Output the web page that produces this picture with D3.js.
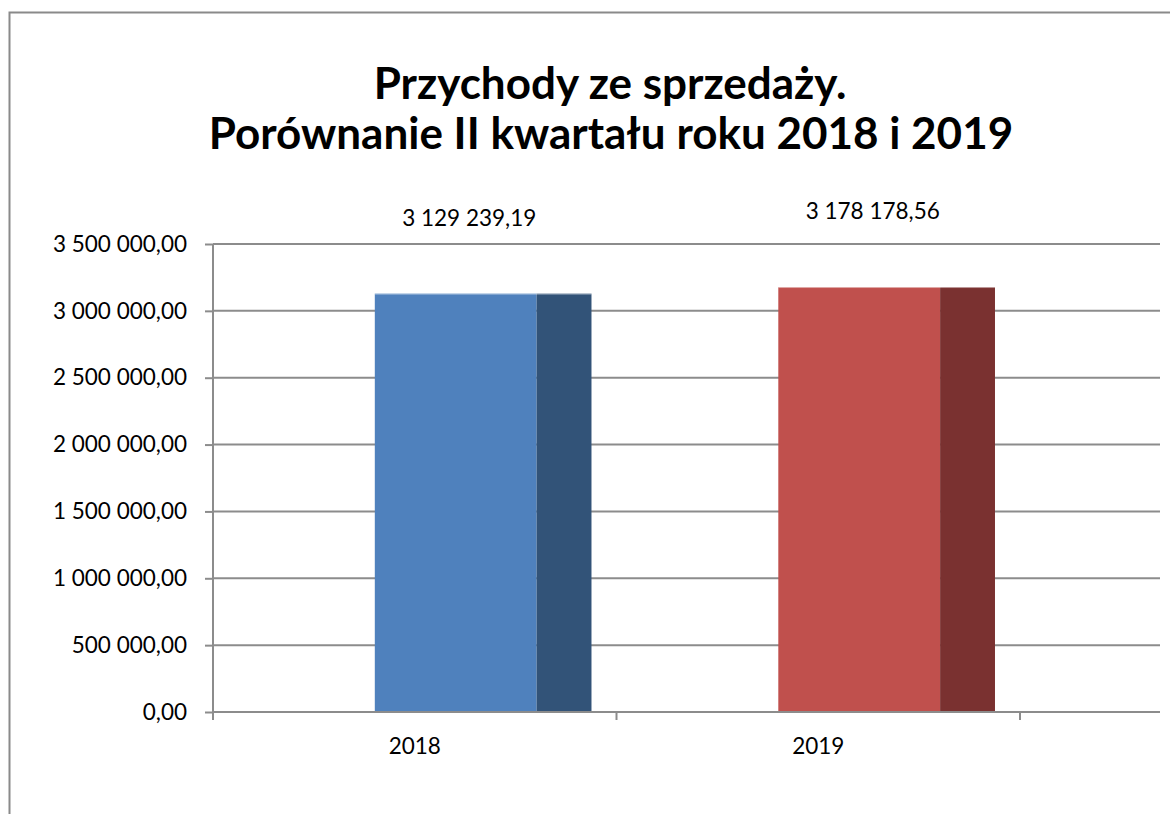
<!DOCTYPE html>
<html>
<head>
<meta charset="utf-8">
<script src="https://cdn.jsdelivr.net/npm/d3@7"></script>
<style>
  html, body { margin: 0; background: #fff; overflow: hidden; }
  svg { display: block; font-family: Lato, "Open Sans", sans-serif; }
</style>
</head>
<body>
<div id="chart"></div>
<script>
var years = ["2018", "2019"];
var values = [3129239.19, 3178178.56];
var labels = ["3 129 239,19", "3 178 178,56"];
var frontColors = ["#4f81bd", "#c0504d"];
var sideColors = ["#325378", "#7a3130"];
var yTicks = [0, 500000, 1000000, 1500000, 2000000, 2500000, 3000000, 3500000];
var yTickLabels = ["0,00", "500 000,00", "1 000 000,00", "1 500 000,00", "2 000 000,00",
	"2 500 000,00", "3 000 000,00", "3 500 000,00"];

var W = 1170, H = 814;
var margin = {left: 213, right: 10, top: 244, bottom: 102};
var width = 1160 - margin.left;   // gridlines end at 1160
var height = 712 - margin.top;
var fs = 22.5;

var svg = d3.select("#chart")
	.append("svg")
	.attr("width", W)
	.attr("height", H);

// chart frame
svg.append("rect")
	.attr("x", 9.5).attr("y", 12.5)
	.attr("width", 1300).attr("height", 900)
	.attr("fill", "none")
	.attr("stroke", "#8a8a8a")
	.attr("stroke-width", 2);

// title
var title = svg.append("text")
	.attr("text-anchor", "middle")
	.attr("font-weight", "bold")
	.attr("font-size", 44)
	.attr("fill", "#000");
title.append("tspan").attr("x", 610).attr("y", 99).text("Przychody ze sprzedaży.");
title.append("tspan").attr("x", 611).attr("y", 149).text("Porównanie II kwartału roku 2018 i 2019");

var g = svg.append("g")
	.attr("transform", "translate(" + margin.left + "," + margin.top + ")");

var x = d3.scaleBand().domain(years).range([0, 807]);
var y = d3.scaleLinear().domain([0, 3500000]).range([height, 0]);
var bw = x.bandwidth();

// gridlines
g.selectAll(".grid")
	.data(yTicks.slice(1))
	.enter().append("line")
	.attr("class", "grid")
	.attr("x1", 0).attr("x2", width)
	.attr("y1", function (d) { return y(d); })
	.attr("y2", function (d) { return y(d); })
	.attr("stroke", "#8c8c8c")
	.attr("stroke-width", 2);

// bars: front face + darker side face
var bars = g.selectAll(".bar")
	.data(values)
	.enter().append("g")
	.attr("class", "bar");

bars.append("rect")
	.attr("x", function (d, i) { return x(years[i]) + bw * 0.401; })
	.attr("y", function (d) { return y(d); })
	.attr("width", bw * 0.401)
	.attr("height", function (d) { return height - y(d); })
	.attr("fill", function (d, i) { return frontColors[i]; });

bars.append("rect")
	.attr("x", function (d, i) { return x(years[i]) + bw * 0.802; })
	.attr("y", function (d) { return y(d); })
	.attr("width", bw * 0.136)
	.attr("height", function (d) { return height - y(d); })
	.attr("fill", function (d, i) { return sideColors[i]; });

// top highlight edge
bars.append("line")
	.attr("x1", function (d, i) { return x(years[i]) + bw * 0.401; })
	.attr("x2", function (d, i) { return x(years[i]) + bw * 0.938; })
	.attr("y1", function (d) { return y(d) + 0.5; })
	.attr("y2", function (d) { return y(d) + 0.5; })
	.attr("stroke", "#ffffff")
	.attr("stroke-opacity", 0.5);

// data labels
g.selectAll(".dlabel")
	.data(values)
	.enter().append("text")
	.attr("class", "dlabel")
	.attr("x", function (d, i) { return x(years[i]) + bw * 0.635; })
	.attr("y", function (d) { return y(d) - 68; })
	.attr("text-anchor", "middle")
	.attr("font-size", fs)
	.attr("fill", "#000")
	.text(function (d, i) { return labels[i]; });

// Y axis
var yAxis = d3.axisLeft(y)
	.tickValues(yTicks)
	.tickSize(8)
	.tickPadding(18)
	.tickFormat(function (d, i) { return yTickLabels[i]; });

g.append("g")
	.attr("class", "y axis")
	.call(yAxis)
	.call(function (s) {
		s.select(".domain").attr("stroke", "#8c8c8c").attr("stroke-width", 2)
			.attr("d", "M0," + y(3500000) + "V" + height);
		s.selectAll(".tick line").attr("stroke", "#8c8c8c").attr("stroke-width", 2);
		s.selectAll(".tick text").attr("font-size", fs).attr("fill", "#000")
			.attr("font-family", "Lato, 'Open Sans', sans-serif");
	});

// X axis
var xAxis = d3.axisBottom(x)
	.tickSize(0)
	.tickPadding(26);

var xg = g.append("g")
	.attr("class", "x axis")
	.attr("transform", "translate(0," + height + ")")
	.call(xAxis);
xg.select(".domain").remove();
xg.append("line")
	.attr("x1", 0).attr("x2", width)
	.attr("stroke", "#8c8c8c").attr("stroke-width", 2);
xg.selectAll(".sep")
	.data(years.concat(["end"]))
	.enter().append("line")
	.attr("class", "sep")
	.attr("x1", function (d, i) { return i * bw; })
	.attr("x2", function (d, i) { return i * bw; })
	.attr("y1", 0).attr("y2", 8)
	.attr("stroke", "#8c8c8c").attr("stroke-width", 2);
xg.selectAll(".tick text")
	.attr("font-size", fs).attr("fill", "#000")
	.attr("font-family", "Lato, 'Open Sans', sans-serif");
</script>
</body>
</html>
